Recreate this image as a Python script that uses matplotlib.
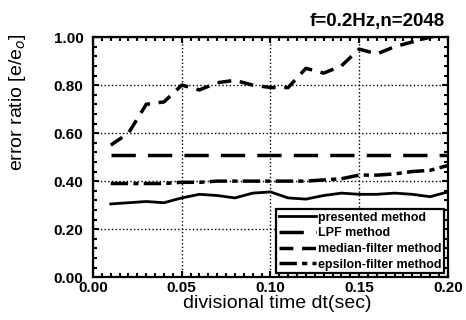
import numpy as np
import matplotlib.pyplot as plt
from matplotlib.ticker import MultipleLocator

plt.rcParams['font.family'] = ['Liberation Sans', 'DejaVu Sans']

# Data
dt = [0.01, 0.02, 0.03, 0.04, 0.05, 0.06, 0.07, 0.08, 0.09, 0.10,
      0.11, 0.12, 0.13, 0.14, 0.15, 0.16, 0.17, 0.18, 0.19, 0.20]
presented = [0.305, 0.31, 0.315, 0.31, 0.33, 0.345, 0.34, 0.33, 0.35, 0.355,
             0.33, 0.325, 0.34, 0.35, 0.345, 0.345, 0.35, 0.345, 0.335, 0.355]
lpf = [0.51] * 20
median = [0.55, 0.60, 0.72, 0.73, 0.80, 0.78, 0.81, 0.82, 0.80, 0.79,
          0.79, 0.87, 0.85, 0.88, 0.95, 0.93, 0.96, 0.98, 1.00, 1.02]
epsilon = [0.39, 0.39, 0.39, 0.39, 0.395, 0.395, 0.40, 0.40, 0.40, 0.40,
           0.40, 0.40, 0.405, 0.41, 0.425, 0.425, 0.43, 0.44, 0.445, 0.465]

fig = plt.figure(figsize=(4.66, 3.2), dpi=100)
ax = fig.add_axes([0.1996, 0.134, 0.7614, 0.75])

ax.plot(dt, presented, color='black', lw=2, label='presented method')
ax.plot(dt, lpf, color='black', lw=2.5, dashes=(7, 3.5), label='LPF method')
ax.plot(dt, median, color='black', lw=2.5, dashes=(4, 2.5), label='median-filter method')
ax.plot(dt, epsilon, color='black', lw=2.5, dashes=(5, 1.5, 1.5, 1.5), label='epsilon-filter method')

ax.set_xlim(0, 0.2)
ax.set_ylim(0, 1.0)
ax.xaxis.set_major_locator(MultipleLocator(0.05))
ax.xaxis.set_minor_locator(MultipleLocator(0.005))
ax.yaxis.set_major_locator(MultipleLocator(0.2))
ax.yaxis.set_minor_locator(MultipleLocator(0.04))
ax.xaxis.set_major_formatter(plt.FormatStrFormatter('%.2f'))
ax.yaxis.set_major_formatter(plt.FormatStrFormatter('%.2f'))
ax.tick_params(which='both', direction='in', top=True, right=True, width=1.5)
ax.tick_params(which='major', length=4, labelsize=11)
ax.tick_params(which='minor', length=3)
ax.tick_params(axis='x', which='major', pad=3)
ax.tick_params(axis='y', which='major', pad=7)
for lab in ax.get_xticklabels() + ax.get_yticklabels():
    lab.set_fontweight('bold')
for s in ax.spines.values():
    s.set_linewidth(1.6)

ax.grid(True, which='major', color='black', linestyle=':', linewidth=1)

ax.set_xlabel('divisional time dt(sec)', fontsize=14)
ax.xaxis.set_label_coords(0.52, -0.112)
ax.xaxis.label.set_va('center')
ax.set_ylabel('error ratio [e/e$_o$]', fontsize=14)
ax.yaxis.set_label_coords(-0.213, 0.728)
ax.yaxis.label.set_va('center')
fig.text(0.955, 0.934, 'f=0.2Hz,n=2048', ha='right', va='center',
         fontsize=13.5, fontweight='bold')

leg = ax.legend(loc='lower right', prop={'size': 9, 'weight': 'bold'},
                frameon=True, fancybox=False,
                handlelength=3.0, handletextpad=0.15, borderpad=0.2,
                labelspacing=0.3, borderaxespad=0.3)
leg.get_frame().set_edgecolor('black')
leg.get_frame().set_linewidth(1.6)
leg.get_frame().set_alpha(1)

fig.savefig('out.png', dpi=100)
